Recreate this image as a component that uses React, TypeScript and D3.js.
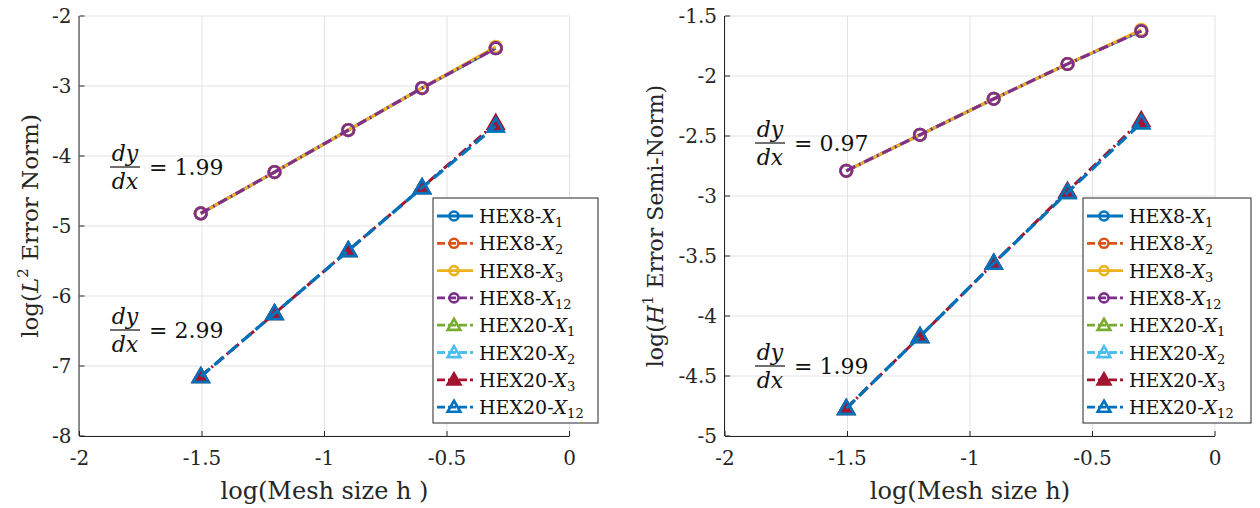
import React from "react";
import * as d3 from "d3";

// log10 of mesh sizes 1/32 ... 1/2
const meshLog = [-1.505, -1.204, -0.903, -0.602, -0.301];

// left panel: log(L2 error)
const l2Hex8X1 = [-4.82, -4.23, -3.63, -3.03, -2.46];
const l2Hex8X2 = [-4.82, -4.23, -3.63, -3.03, -2.46];
const l2Hex8X3 = [-4.82, -4.23, -3.63, -3.03, -2.44];
const l2Hex8X12 = [-4.82, -4.23, -3.63, -3.03, -2.46];
const l2Hex20X1 = [-7.15, -6.25, -5.35, -4.46, -3.57];
const l2Hex20X2 = [-7.15, -6.25, -5.35, -4.46, -3.57];
const l2Hex20X3 = [-7.15, -6.25, -5.35, -4.45, -3.53];
const l2Hex20X12 = [-7.15, -6.25, -5.35, -4.45, -3.57];

// right panel: log(H1 semi-norm error)
const h1Hex8X1 = [-2.79, -2.49, -2.19, -1.9, -1.625];
const h1Hex8X2 = [-2.79, -2.49, -2.19, -1.9, -1.625];
const h1Hex8X3 = [-2.79, -2.49, -2.19, -1.9, -1.615];
const h1Hex8X12 = [-2.79, -2.49, -2.19, -1.9, -1.625];
const h1Hex20X1 = [-4.77, -4.17, -3.56, -2.97, -2.39];
const h1Hex20X2 = [-4.77, -4.17, -3.56, -2.97, -2.39];
const h1Hex20X3 = [-4.77, -4.17, -3.56, -2.96, -2.37];
const h1Hex20X12 = [-4.77, -4.17, -3.56, -2.97, -2.39];

const xTicks = [-2, -1.5, -1, -0.5, 0];
const l2Ticks = [-8, -7, -6, -5, -4, -3, -2];
const h1Ticks = [-5, -4.5, -4, -3.5, -3, -2.5, -2, -1.5];

const seriesNames = ["HEX8", "HEX8", "HEX8", "HEX8", "HEX20", "HEX20", "HEX20", "HEX20"];
const seriesSubs = ["1", "2", "3", "12", "1", "2", "3", "12"];
const colors = ["#0072BD", "#D95319", "#EDB120", "#7E2F8E", "#77AC30", "#4DBEEE", "#A2142F", "#0072BD"];
const dashes = [null, "10,4,2,4", null, "10,4,2,4", "12,6", "12,6", "10,4,2,4", "12,6"];

const FONT = "'DejaVu Serif', 'Liberation Serif', serif";
const INK = "#262626";

const marker = (i: number, x: number, y: number, small: boolean) => {
  if (i < 4) {
    return <circle cx={x} cy={y} r={small ? 4.5 : 5.8} fill="none" stroke={colors[i]} strokeWidth={2.6} />;
  }
  const path = d3.symbol(d3.symbolTriangle, small ? 70 : 105)();
  return (
    <path
      d={path || ""}
      transform={`translate(${x},${y + 1})`}
      fill={i === 6 ? colors[i] : "none"}
      stroke={colors[i]}
      strokeWidth={2.6}
    />
  );
};

const Fraction = ({ x, y, value }: { x: number; y: number; value: string }) => (
  <g fontFamily={FONT} fill="#111" fontSize={22}>
    <text x={x + 15} y={y - 6} textAnchor="middle" fontStyle="italic">dy</text>
    <line x1={x} x2={x + 30} y1={y} y2={y} stroke="#111" strokeWidth={1.2} />
    <text x={x + 15} y={y + 22} textAnchor="middle" fontStyle="italic">dx</text>
    <text x={x + 39} y={y + 8}>= {value}</text>
  </g>
);

const Panel = (props: {
  left: number;
  yDomain: [number, number];
  yTicks: number[];
  series: number[][];
  yLabel: React.ReactNode;
  yLabelX: number;
  yLabelSize: number;
  xLabel: string;
  legendX: number;
  legendW: number;
  notes: { x: number; y: number; value: string }[];
}) => {
  const x = d3.scaleLinear().domain([-2, 0]).range([props.left, props.left + 490]);
  const y = d3.scaleLinear().domain(props.yDomain).range([436, 16]);
  const line = d3
    .line<number>()
    .x((_, k) => x(meshLog[k]))
    .y((d) => y(d));
  const fmt = (v: number) => String(v);
  const lx = props.legendX;

  return (
    <g>
      {/* grid */}
      {xTicks.map((t) => (
        <line key={"gx" + t} x1={x(t)} x2={x(t)} y1={16} y2={436} stroke="#e3e3e3" strokeWidth={1} />
      ))}
      {props.yTicks.map((t) => (
        <line key={"gy" + t} x1={x(-2)} x2={x(0)} y1={y(t)} y2={y(t)} stroke="#e3e3e3" strokeWidth={1} />
      ))}

      {/* axes */}
      <line x1={x(-2)} x2={x(0)} y1={436.5} y2={436.5} stroke={INK} strokeWidth={1} />
      <line x1={x(-2) - 0.5} x2={x(-2) - 0.5} y1={16} y2={436} stroke={INK} strokeWidth={1} />
      {xTicks.map((t) => (
        <g key={"xt" + t}>
          <line x1={x(t)} x2={x(t)} y1={436} y2={431} stroke={INK} />
          <text x={x(t)} y={465} textAnchor="middle" fontFamily={FONT} fontSize={20} fill={INK}>
            {fmt(t)}
          </text>
        </g>
      ))}
      {props.yTicks.map((t) => (
        <g key={"yt" + t}>
          <line x1={x(-2)} x2={x(-2) + 5} y1={y(t)} y2={y(t)} stroke={INK} />
          <text
            x={x(-2) - 8}
            y={y(t) + 7}
            textAnchor="end"
            fontFamily={FONT}
            fontSize={20}
            fill={INK}
          >
            {fmt(t)}
          </text>
        </g>
      ))}
      <text x={x(-1)} y={499} textAnchor="middle" fontFamily={FONT} fontSize={24} fill={INK}>
        {props.xLabel}
      </text>
      <text
        transform={`translate(${props.yLabelX},226) rotate(-90)`}
        textAnchor="middle"
        fontFamily={FONT}
        fontSize={props.yLabelSize}
        fill={INK}
      >
        {props.yLabel}
      </text>

      {/* series */}
      {props.series.map((s, i) => (
        <g key={"s" + i}>
          <path
            d={line(s) || ""}
            fill="none"
            stroke={colors[i]}
            strokeWidth={3}
            strokeDasharray={dashes[i] || undefined}
          />
          {s.map((v, k) => (
            <g key={k}>{marker(i, x(meshLog[k]), y(v), false)}</g>
          ))}
        </g>
      ))}

      {props.notes.map((n, k) => (
        <Fraction key={"n" + k} x={n.x} y={n.y} value={n.value} />
      ))}

      {/* legend */}
      <rect x={lx} y={198} width={props.legendW} height={225} fill="white" stroke={INK} strokeWidth={1} />
      {seriesNames.map((name, i) => {
        const ry = 216 + i * 27.3;
        return (
          <g key={"lg" + i}>
            <line
              x1={lx + 4}
              x2={lx + 40}
              y1={ry}
              y2={ry}
              stroke={colors[i]}
              strokeWidth={2.8}
              strokeDasharray={dashes[i] ? "8,3" : undefined}
            />
            {marker(i, lx + 21, ry, true)}
            <text x={lx + 46} y={ry + 7} fontFamily={FONT} fontSize={19} fill="#111">
              {name}-<tspan fontStyle="italic">X</tspan>
              <tspan fontSize={13} dy={4}>{seriesSubs[i]}</tspan>
            </text>
          </g>
        );
      })}
    </g>
  );
};

export default function App() {
  return (
    <svg
      width={1260}
      height={508}
      style={{ position: "absolute", left: 0, top: 0, background: "white" }}
    >
      <Panel
        left={79.5}
        yDomain={[-8, -2]}
        yTicks={l2Ticks}
        series={[l2Hex8X1, l2Hex8X2, l2Hex8X3, l2Hex8X12, l2Hex20X1, l2Hex20X2, l2Hex20X3, l2Hex20X12]}
        yLabel={
          <>
            log(<tspan fontStyle="italic">L</tspan>
            <tspan fontSize={15} dy={-10}>2</tspan>
            <tspan dy={10}> Error Norm)</tspan>
          </>
        }
        yLabelX={38}
        yLabelSize={23}
        xLabel="log(Mesh size h )"
        legendX={433}
        legendW={165}
        notes={[
          { x: 110, y: 167, value: "1.99" },
          { x: 110, y: 330, value: "2.99" },
        ]}
      />
      <Panel
        left={725}
        yDomain={[-5, -1.5]}
        yTicks={h1Ticks}
        series={[h1Hex8X1, h1Hex8X2, h1Hex8X3, h1Hex8X12, h1Hex20X1, h1Hex20X2, h1Hex20X3, h1Hex20X12]}
        yLabel={
          <>
            log(<tspan fontStyle="italic">H</tspan>
            <tspan fontSize={15} dy={-10}>1</tspan>
            <tspan dy={10}> Error Semi-Norm)</tspan>
          </>
        }
        yLabelX={663}
        yLabelSize={22}
        xLabel="log(Mesh size h)"
        legendX={1083}
        legendW={168}
        notes={[
          { x: 755, y: 143, value: "0.97" },
          { x: 755, y: 366, value: "1.99" },
        ]}
      />
    </svg>
  );
}
